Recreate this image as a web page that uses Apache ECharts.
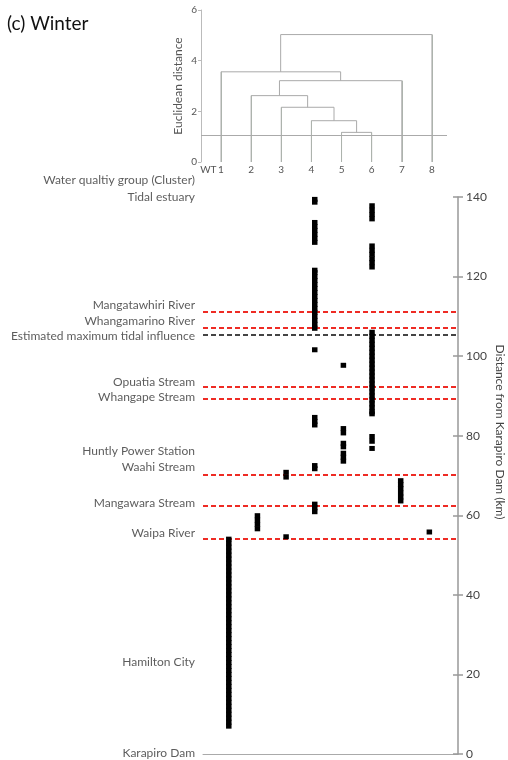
<!DOCTYPE html>
<html><head><meta charset="utf-8">
<script src="https://cdn.jsdelivr.net/npm/echarts@6/dist/echarts.min.js"></script>
<style>html,body{margin:0;padding:0;background:#fff}#c{width:508px;height:760px}</style>
</head><body><div id="c"></div>
<script>
// ---- dendrogram (top) ----
const clusterLabels = ['WT','1','2','3','4','5','6','7','8'];
const clusterLabelPos = [0.58,1,2,3,4,5,6,7,8];
// each merge: [left x, left bottom height, right x, right bottom height, merge height]
const merges = [
  [5, 0, 6, 0, 1.17],
  [4, 0, 5.5, 1.17, 1.63],
  [3, 0, 4.75, 1.63, 2.16],
  [2, 0, 3.875, 2.16, 2.62],
  [2.94, 2.62, 7, 0, 3.21],
  [1, 0, 4.97, 3.21, 3.56],
  [2.98, 3.56, 8, 0, 5.03]
];
const leafX = [1, 2, 3, 4, 5, 6, 7, 8];
const leafTop = [3.56, 2.62, 2.16, 1.63, 1.17, 1.17, 3.21, 5.03];
const cutHeight = 1.04;

// ---- cluster membership along the river (km from Karapiro Dam) ----
const group1 = [7,8,9,10,11,12,13,14,15,16,17,18,19,20,21,22,23,24,25,26,27,28,29,30,31,32,33,34,35,36,37,38,39,40,41,42,43,44,45,46,47,48,49,50,51,52,53,54];
const group2 = [56.6,57.7,58.8,59.9];
const group3 = [54.6,69.6,70.8];
const group4 = [60.9,61.9,62.8,71.7,72.5,82.7,83.6,84.6,101.6,107,108,109,110,111,112,113,114,115,116,117,118,119,120,121,121.6,128.6,129.6,130.6,131.6,132.6,133.6,138.7,139.4];
const group5 = [73.6,74.6,75.6,77.2,78.1,80.7,81.8,97.7];
const group6 = [76.8,78.6,79.8,85.5,86,87,88,89,90,91,92,93,94,95,96,97,98,99,100,101,102,103,104,105,106,122.4,123.5,124.5,125.6,126.6,127.7,134.5,135.6,136.7,137.8];
const group7 = [63.6,64.6,65.6,66.7,67.7,68.7];
const group8 = [55.8];
const groups = [group1, group2, group3, group4, group5, group6, group7, group8];

// ---- reference lines ----
const tributaryKm = [111.1, 107.2, 92.3, 89.2, 70.1, 62.3, 54.2];
const tidalLimitKm = 105.4;

// ---- left-hand site labels ----
const siteLabels = ['Water qualtiy group (Cluster)','Tidal estuary','Mangatawhiri River','Whangamarino River','Estimated maximum tidal influence','Opuatia Stream','Whangape Stream','Huntly Power Station','Waahi Stream','Mangawara Stream','Waipa River','Hamilton City','Karapiro Dam'];
const siteLabelKm = [144.2, 140, 112.8, 108.8, 105.1, 93.5, 89.7, 76.1, 72.2, 63.1, 55.5, 23.1, 0.25];

const FONT = 'Lato';
const chart = echarts.init(document.getElementById('c'), null, {renderer: 'canvas'});

const dendroData = merges.map(m => ({coords: [[m[0], m[1]], [m[0], m[4]], [m[2], m[4]], [m[2], m[3]]]}));
const leafData = leafX.map((k, i) => ({coords: [[k, 0], [k, leafTop[i]]]}));

const dotSeries = groups.map((g, i) => ({
  type: 'scatter', xAxisIndex: 1, yAxisIndex: 1,
  symbol: 'rect', symbolSize: [5.5, 5],
  itemStyle: {color: '#000', opacity: 1},
  silent: true, z: 5,
  data: g.map(v => [i + 1, v])
}));

chart.setOption({
  animation: false,
  backgroundColor: '#fff',
  textStyle: {fontFamily: FONT},
  title: {text: '(c) Winter', left: 2, top: 9, textStyle: {fontSize: 19, fontWeight: 'normal', color: '#111', fontFamily: FONT}},
  grid: [
    {left: 201, width: 246, top: 10, height: 152},
    {left: 203, width: 255, top: 197, height: 557}
  ],
  xAxis: [
    {gridIndex: 0, type: 'value', min: 0.336, max: 8.5,
     axisLine: {show: false}, axisTick: {show: false}, splitLine: {show: false},
     axisLabel: {customValues: clusterLabelPos, fontSize: 10, color: '#555', margin: 3,
       formatter: v => clusterLabels[clusterLabelPos.indexOf(v)] || ''}},
    {gridIndex: 1, type: 'value', min: 0.1, max: 9.0,
     axisLine: {show: true, lineStyle: {color: '#aaa', width: 1}}, axisTick: {show: false},
     axisLabel: {show: false}, splitLine: {show: false}}
  ],
  yAxis: [
    {gridIndex: 0, type: 'value', min: 0, max: 6, interval: 2,
     name: 'Euclidean distance', nameLocation: 'middle', nameRotate: 90, nameGap: 17,
     nameTextStyle: {fontSize: 12, color: '#555', fontFamily: FONT},
     axisLine: {show: true, lineStyle: {color: '#bbb'}}, axisTick: {show: true, length: 3, lineStyle: {color: '#bbb'}},
     axisLabel: {fontSize: 10, color: '#555', margin: 4}, splitLine: {show: false}},
    {gridIndex: 1, type: 'value', position: 'right', min: 0, max: 140, interval: 20,
     axisLine: {show: true, lineStyle: {color: '#999', width: 1.5}},
     axisTick: {show: true, length: 5, lineStyle: {color: '#999', width: 1.5}},
     axisLabel: {fontSize: 12, color: '#444', margin: 8}, splitLine: {show: false}},
    {gridIndex: 1, type: 'value', position: 'right', min: 0, max: 140, interval: 20,
     axisLine: {show: false},
     axisTick: {show: true, inside: true, length: 5, lineStyle: {color: '#999', width: 1.5}},
     axisLabel: {show: false}, splitLine: {show: false}}
  ],
  graphic: [
    {type: 'text', x: 500, y: 432, rotation: -Math.PI / 2,
     style: {text: 'Distance from Karapiro Dam (km)', fontSize: 12, fill: '#444', fontFamily: FONT, align: 'center', verticalAlign: 'middle'}}
  ],
  series: [
    {type: 'lines', coordinateSystem: 'cartesian2d', xAxisIndex: 0, yAxisIndex: 0, polyline: true, silent: true,
     lineStyle: {color: '#aaa', width: 1, opacity: 1}, data: dendroData},
    {type: 'lines', coordinateSystem: 'cartesian2d', xAxisIndex: 0, yAxisIndex: 0, silent: true,
     lineStyle: {color: '#adb3ad', width: 1, opacity: 1}, data: leafData},
    {type: 'line', xAxisIndex: 0, yAxisIndex: 0, data: [], silent: true,
     markLine: {silent: true, symbol: 'none', label: {show: false},
       lineStyle: {color: '#aaa', width: 1, type: 'solid'}, data: [{yAxis: cutHeight}]}},
    ...dotSeries,
    {type: 'line', xAxisIndex: 1, yAxisIndex: 1, data: [], silent: true,
     markLine: {silent: true, symbol: 'none', label: {show: false}, z: 3,
       lineStyle: {color: '#ee2b24', width: 2, type: [5, 3]},
       data: tributaryKm.map(v => ({yAxis: v}))}},
    {type: 'line', xAxisIndex: 1, yAxisIndex: 1, data: [], silent: true,
     markLine: {silent: true, symbol: 'none', label: {show: false}, z: 3,
       lineStyle: {color: '#444', width: 2, type: [5, 3]},
       data: [{yAxis: tidalLimitKm}]}},
    {type: 'scatter', xAxisIndex: 1, yAxisIndex: 1, symbolSize: 0, clip: false, silent: true,
     itemStyle: {color: 'rgba(0,0,0,0)'},
     label: {show: true, position: 'left', distance: 8, fontSize: 12, color: '#333', fontFamily: FONT,
       formatter: p => p.name},
     data: siteLabels.map((n, i) => ({name: n, value: [0.1, siteLabelKm[i]]}))}
  ]
});
</script></body></html>
